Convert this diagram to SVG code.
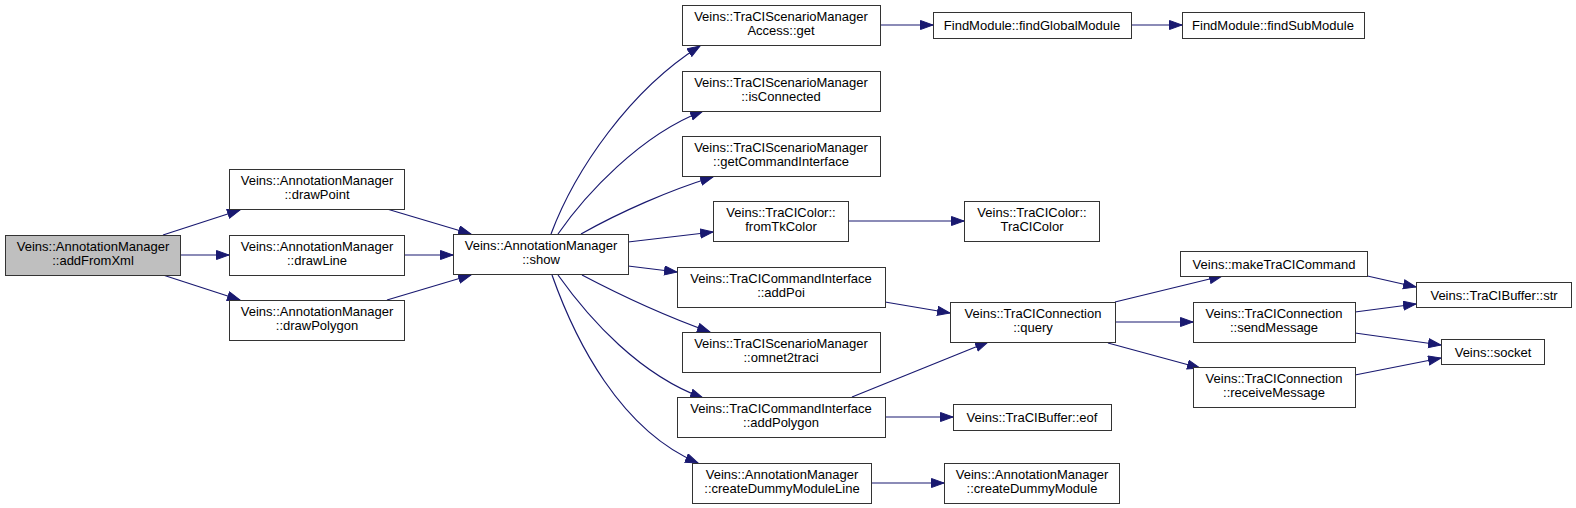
<svg xmlns="http://www.w3.org/2000/svg" width="1576" height="508" viewBox="0 0 1576 508">
<style>
.n rect{fill:#ffffff;stroke:#333333;stroke-width:1}
.n.root rect{fill:#bfbfbf}
.n text{font-family:"Liberation Sans",Arial,Helvetica,sans-serif;font-size:13px;fill:#000000;text-anchor:middle}
.e path{fill:none;stroke:#191970;stroke-width:1.2;marker-end:url(#ah)}
</style>
<defs>
<marker id="ah" markerUnits="userSpaceOnUse" markerWidth="14" markerHeight="11" refX="13" refY="5" orient="auto">
<path d="M0.5,0.5 L13,5 L0.5,9.5 z" fill="#191970" stroke="#191970" stroke-width="1"/>
</marker>
</defs>
<rect width="1576" height="508" fill="#ffffff"/>
<g id="edges" class="e">
<path d="M163,235 L240,210"/>
<path d="M180,255 L229,255"/>
<path d="M163,275 L240,300"/>
<path d="M387,209 L471,234"/>
<path d="M404,255 L453,255"/>
<path d="M387,300 L471,275"/>
<path d="M551,234 C575,170 630,90 700,46"/>
<path d="M558,234 C585,195 640,135 703,111"/>
<path d="M581,234 C620,212 670,190 713,177"/>
<path d="M628,242 L713,232"/>
<path d="M628,266 L677,272"/>
<path d="M582,275 C620,295 665,316 710,332"/>
<path d="M558,275 C590,320 640,375 703,398"/>
<path d="M552,275 C575,340 620,430 698,463"/>
<path d="M880,25 L933,25"/>
<path d="M1131,25 L1182,25"/>
<path d="M848,221 L964,221"/>
<path d="M885,302 L950,313"/>
<path d="M852,397 L988,342"/>
<path d="M885,417 L953,417"/>
<path d="M871,483 L944,483"/>
<path d="M1115,302 L1222,276"/>
<path d="M1115,322 L1193,322"/>
<path d="M1108,343 L1200,368"/>
<path d="M1363,275 L1416,287"/>
<path d="M1355,312 L1416,304"/>
<path d="M1355,333 L1441,345"/>
<path d="M1355,375 L1441,358"/>
</g>
<g id="n0" class="n root"><rect x="5.5" y="235.5" width="175" height="40"/><text x="93" y="251">Veins::AnnotationManager</text><text x="93" y="265">::addFromXml</text></g>
<g id="n1" class="n"><rect x="229.5" y="169.5" width="175" height="40"/><text x="317" y="185">Veins::AnnotationManager</text><text x="317" y="199">::drawPoint</text></g>
<g id="n2" class="n"><rect x="229.5" y="235.5" width="175" height="40"/><text x="317" y="251">Veins::AnnotationManager</text><text x="317" y="265">::drawLine</text></g>
<g id="n3" class="n"><rect x="229.5" y="300.5" width="175" height="40"/><text x="317" y="316">Veins::AnnotationManager</text><text x="317" y="330">::drawPolygon</text></g>
<g id="n4" class="n"><rect x="453.5" y="234.5" width="175" height="40"/><text x="541" y="250">Veins::AnnotationManager</text><text x="541" y="264">::show</text></g>
<g id="n5" class="n"><rect x="682.5" y="5.5" width="198" height="40"/><text x="781" y="21">Veins::TraCIScenarioManager</text><text x="781" y="35">Access::get</text></g>
<g id="n6" class="n"><rect x="682.5" y="71.5" width="198" height="40"/><text x="781" y="87">Veins::TraCIScenarioManager</text><text x="781" y="101">::isConnected</text></g>
<g id="n7" class="n"><rect x="682.5" y="136.5" width="198" height="40"/><text x="781" y="152">Veins::TraCIScenarioManager</text><text x="781" y="166">::getCommandInterface</text></g>
<g id="n8" class="n"><rect x="713.5" y="201.5" width="135" height="40"/><text x="781" y="217">Veins::TraCIColor::</text><text x="781" y="231">fromTkColor</text></g>
<g id="n9" class="n"><rect x="677.5" y="267.5" width="208" height="40"/><text x="781" y="283">Veins::TraCICommandInterface</text><text x="781" y="297">::addPoi</text></g>
<g id="n10" class="n"><rect x="682.5" y="332.5" width="198" height="40"/><text x="781" y="348">Veins::TraCIScenarioManager</text><text x="781" y="362">::omnet2traci</text></g>
<g id="n11" class="n"><rect x="677.5" y="397.5" width="208" height="40"/><text x="781" y="413">Veins::TraCICommandInterface</text><text x="781" y="427">::addPolygon</text></g>
<g id="n12" class="n"><rect x="692.5" y="463.5" width="179" height="40"/><text x="782" y="479">Veins::AnnotationManager</text><text x="782" y="493">::createDummyModuleLine</text></g>
<g id="n13" class="n"><rect x="933.5" y="12.5" width="198" height="26"/><text x="1032" y="30">FindModule::findGlobalModule</text></g>
<g id="n14" class="n"><rect x="1182.5" y="12.5" width="182" height="26"/><text x="1273" y="30">FindModule::findSubModule</text></g>
<g id="n15" class="n"><rect x="964.5" y="201.5" width="135" height="40"/><text x="1032" y="217">Veins::TraCIColor::</text><text x="1032" y="231">TraCIColor</text></g>
<g id="n16" class="n"><rect x="950.5" y="302.5" width="165" height="40"/><text x="1033" y="318">Veins::TraCIConnection</text><text x="1033" y="332">::query</text></g>
<g id="n17" class="n"><rect x="953.5" y="404.5" width="158" height="26"/><text x="1032" y="422">Veins::TraCIBuffer::eof</text></g>
<g id="n18" class="n"><rect x="944.5" y="463.5" width="175" height="40"/><text x="1032" y="479">Veins::AnnotationManager</text><text x="1032" y="493">::createDummyModule</text></g>
<g id="n19" class="n"><rect x="1180.5" y="251.5" width="187" height="25"/><text x="1274" y="269">Veins::makeTraCICommand</text></g>
<g id="n20" class="n"><rect x="1193.5" y="302.5" width="162" height="40"/><text x="1274" y="318">Veins::TraCIConnection</text><text x="1274" y="332">::sendMessage</text></g>
<g id="n21" class="n"><rect x="1193.5" y="367.5" width="162" height="40"/><text x="1274" y="383">Veins::TraCIConnection</text><text x="1274" y="397">::receiveMessage</text></g>
<g id="n22" class="n"><rect x="1416.5" y="282.5" width="155" height="25"/><text x="1494" y="300">Veins::TraCIBuffer::str</text></g>
<g id="n23" class="n"><rect x="1441.5" y="339.5" width="103" height="25"/><text x="1493" y="357">Veins::socket</text></g>
</svg>
